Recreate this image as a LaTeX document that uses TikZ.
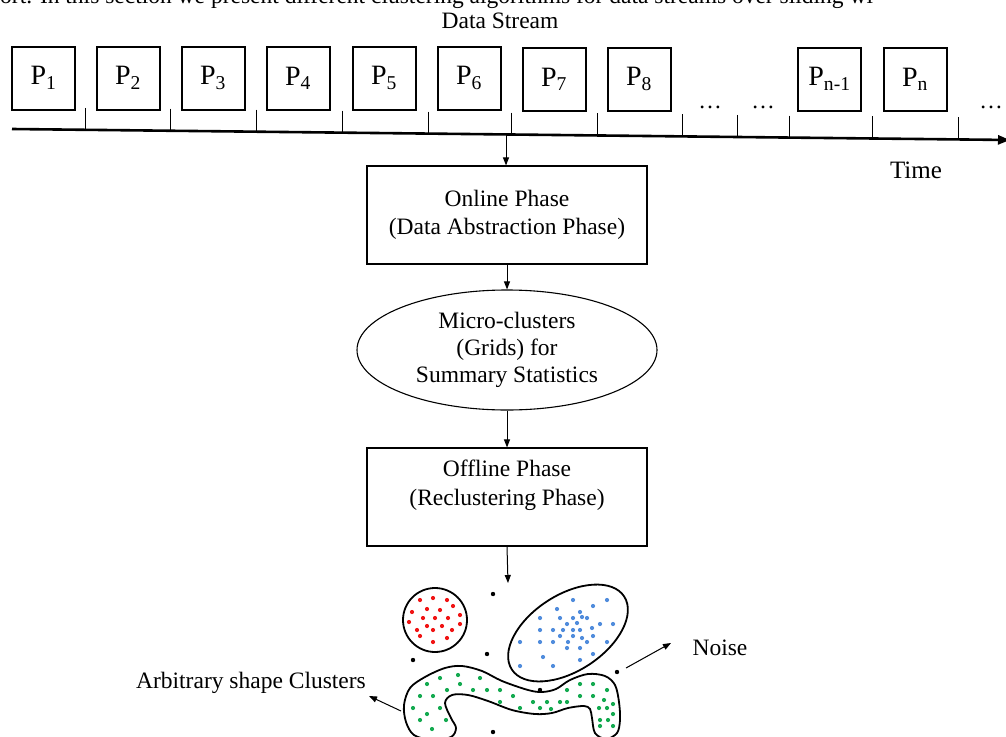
\documentclass[tikz,border=0pt]{standalone}
\usepackage{fontspec}
\setmainfont{Liberation Serif}
\usetikzlibrary{arrows.meta,shapes.geometric}
\begin{document}
\begin{tikzpicture}[x=1pt,y=-1pt,
  txt/.style={font=\fontsize{23.5}{28}\selectfont, inner sep=0pt},
  pbox/.style={draw, line width=2pt, minimum width=63pt, minimum height=63pt, inner sep=0pt, font=\fontsize{28}{32}\selectfont},
  phasebox/.style={draw, line width=1.1pt, minimum width=280pt, minimum height=98pt, align=center, font=\fontsize{23.5}{28.5}\selectfont},
  arr/.style={line width=1pt, -{Triangle[length=8pt,width=6pt]}},
  tickline/.style={line width=0.9pt},
  clus/.style={line width=1.8pt},
  dotR/.style={fill={rgb,255:red,240;green,20;blue,20}},
  dotB/.style={fill={rgb,255:red,80;green,140;blue,220}},
  dotG/.style={fill={rgb,255:red,20;green,170;blue,80}},
  dotK/.style={fill=black}
]
\useasboundingbox (0,0) rectangle (1006,736);

% cropped page text at top
\node[txt, anchor=base west] (toptext) at (0,4) {ort. In this section we present different clustering algorithms for data streams over sliding wi};
\node[txt] (title) at (500,21) {Data Stream};

% packets
\node[pbox] (p1) at (43.5,78) {P\textsubscript{1}};
\node[pbox] (p2) at (128,78) {P\textsubscript{2}};
\node[pbox] (p3) at (213,78) {P\textsubscript{3}};
\node[pbox] (p4) at (298,78) {P\textsubscript{4}};
\node[pbox] (p5) at (384,78) {P\textsubscript{5}};
\node[pbox] (p6) at (469,78) {P\textsubscript{6}};
\node[pbox] (p7) at (554,79) {P\textsubscript{7}};
\node[pbox] (p8) at (639,79) {P\textsubscript{8}};
\node[pbox] (pn1) at (829.5,79) {P\textsubscript{n-1}};
\node[pbox] (pn) at (915,79) {P\textsubscript{n}};
\node[txt, anchor=base] (dots1) at (710,108) {\dots};
\node[txt, anchor=base] (dots2) at (763,108) {\dots};
\node[txt, anchor=base] (dots3) at (991,108) {\dots};

% time axis
\coordinate (ax0) at (12,129);
\coordinate (ax1) at (1010,140);
\draw[line width=2.6pt, -{Triangle[length=12pt,width=9pt]}] (ax0) -- (ax1);
\foreach \x in {85,170,256,342,428,511,597,682,737,789,872,958}{
  \pgfmathsetmacro{\ya}{129+(\x-12)*11/998}
  \draw[tickline] (\x,\ya-22) -- (\x,\ya);
}
\node[txt, font=\fontsize{25}{30}\selectfont] (time) at (916,170) {Time};

% phases
\coordinate (axtap) at (506,134.4);
\node[phasebox] (online) at (507,215) {Online Phase\\(Data Abstraction Phase)};
\node[draw, ellipse, line width=1.1pt, minimum width=300pt, minimum height=120pt, inner sep=0pt, align=center, font=\fontsize{23.5}{27}\selectfont] (micro) at (507,350) {Micro-clusters\\(Grids) for\\Summary Statistics};
\node[phasebox] (offline) at (507,497) {Offline Phase\\(Reclustering Phase)\\\mbox{}};
\coordinate (clusterin) at (508,583);

\draw[arr] (axtap) -- (axtap |- online.north);
\draw[arr] (online.south) -- (micro.north);
\draw[arr] (micro.south) -- (offline.north);
\draw[arr] (offline.south) -- (clusterin);

% clusters
\node[draw, circle, clus, minimum size=64pt, inner sep=0pt] (redcl) at (435,620) {};
\node[draw, ellipse, clus, minimum width=134pt, minimum height=76pt, inner sep=0pt, rotate=33] (bluecl) at (568,633) {};
\draw[clus] plot[smooth cycle, tension=0.55] coordinates {
 (404,705) (410,688) (425,677) (445,668) (462,666) (482,671) (502,681) (528,690)
 (542,692) (556,689) (570,680) (588,674) (605,676) (615,685) (619,702) (620,720)
 (617,733) (606,739) (595,733) (592,718) (590,709) (584,706) (568,708) (552,713)
 (535,714) (512,710) (488,701) (468,695) (452,695) (445,703) (451,718) (456,728)
 (451,737) (432,740) (414,735) (406,722)};

\foreach \p in {(420,600),(433,598),(447,600),(453,606),(412,612),(427,609),(440,610),(460,615),(409,622),(423,618),(435,618),(448,618),(460,624),(417,630),(427,626),(433,630),(442,626),(452,630),(420,636),(447,638),(433,642)}
  \path[dotR] \p circle (2.1pt);
\foreach \p in {(573,600),(607,600),(593,606),(557,609),(580,612),(540,618),(560,618),(573,618),(587,618),(577,623),(582,617),(567,624),(600,624),(613,624),(553,630),(540,630),(563,630),(573,630),(580,630),(592,628),(560,636),(573,636),(582,638),(593,636),(520,642),(540,642),(553,642),(568,642),(587,642),(607,642),(567,648),(580,648),(593,654),(543,657),(580,660),(520,666),(553,666)}
  \path[dotB] \p circle (2.1pt);
\foreach \p in {(440,678),(458,675),(480,678),(427,684),(460,684),(447,690),(473,690),(487,690),(500,690),(420,696),(433,696),(513,696),(500,702),(533,702),(547,702),(560,702),(567,702),(413,708),(440,708),(520,708),(540,708),(551,709),(427,714),(420,720),(446,720),(432,729),(567,690),(580,684),(593,684),(607,690),(580,696),(593,696),(604,700),(613,704),(599,708),(607,708),(613,714),(600,720),(608,720),(600,726),(613,726)}
  \path[dotG] \p circle (2.1pt);
\foreach \p in {(493,594),(413,660),(487,654),(617,672),(540,690),(493,732)}
  \path[dotK] \p circle (2.2pt);

% labels
\node[txt] (noise) at (720,648) {Noise};
\node[txt] (arbtext) at (251,683) {Arbitrary shape Clusters};
\coordinate (noisefrom) at (626,668);
\coordinate (noiseto) at (671,643);
\coordinate (arbfrom) at (401,711);
\coordinate (arbto) at (369,696);
\draw[arr] (noisefrom) -- (noiseto);
\draw[arr] (arbfrom) -- (arbto);
\end{tikzpicture}
\end{document}
